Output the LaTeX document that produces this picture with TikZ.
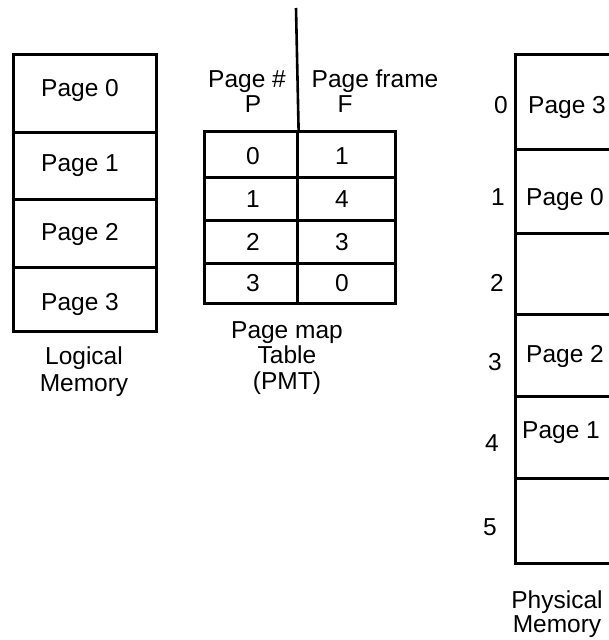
\documentclass[tikz,border=0pt]{standalone}
\usepackage{fontspec}
\setmainfont{Liberation Sans}
\begin{document}
\begin{tikzpicture}[x=1pt,y=-1pt,
  cell/.style={draw,line width=2.6pt,inner sep=0pt,anchor=north west},
  txt/.style={font=\fontsize{24.5}{28}\selectfont,anchor=base,inner sep=0pt},
  line width=2.6pt]
\useasboundingbox (0,0) rectangle (609,640);
\clip (0,0) rectangle (609,640);
% Logical memory
\node[cell,minimum width=143pt,minimum height=78pt] (l0) at (12,53) {};
\node[cell,minimum width=143pt,minimum height=67pt] (l1) at (12,131) {};
\node[cell,minimum width=143pt,minimum height=68pt] (l2) at (12,198) {};
\node[cell,minimum width=143pt,minimum height=64pt] (l3) at (12,266) {};
\node[txt] (tl0) at (80,96) {Page 0};
\node[txt] (tl1) at (80,171) {Page 1};
\node[txt] (tl2) at (80,240) {Page 2};
\node[txt] (tl3) at (80,310) {Page 3};
\node[txt] (lg1) at (84,364) {Logical};
\node[txt] (lg2) at (84,391) {Memory};
% PMT
\node[cell,minimum width=93pt,minimum height=46pt] (p0) at (203,130) {};
\node[cell,minimum width=98pt,minimum height=46pt] (f0) at (296,130) {};
\node[cell,minimum width=93pt,minimum height=43pt] (p1) at (203,176) {};
\node[cell,minimum width=98pt,minimum height=43pt] (f1) at (296,176) {};
\node[cell,minimum width=93pt,minimum height=43pt] (p2) at (203,219) {};
\node[cell,minimum width=98pt,minimum height=43pt] (f2) at (296,219) {};
\node[cell,minimum width=93pt,minimum height=40pt] (p3) at (203,262) {};
\node[cell,minimum width=98pt,minimum height=40pt] (f3) at (296,262) {};
\coordinate (vtop) at (296,8);
\draw (vtop) -- (p0.north east);
\node[txt] (hp) at (247,87) {Page \#};
\node[txt] (hpp) at (253,112) {P};
\node[txt] (hf) at (375,87) {Page frame};
\node[txt] (hff) at (345,112) {F};
\node[txt] (v00) at (253,164) {0};
\node[txt] (v01) at (342,164) {1};
\node[txt] (v10) at (253,207) {1};
\node[txt] (v11) at (342,207) {4};
\node[txt] (v20) at (253,250) {2};
\node[txt] (v21) at (342,250) {3};
\node[txt] (v30) at (253,291) {3};
\node[txt] (v31) at (342,291) {0};
\node[txt] (pm1) at (287,338) {Page map};
\node[txt] (pm2) at (287,363) {Table};
\node[txt] (pm3) at (287,389) {(PMT)};
% Physical memory
\node[cell,minimum width=110pt,minimum height=95pt] (m0) at (514,53) {};
\node[cell,minimum width=110pt,minimum height=84pt] (m1) at (514,148) {};
\node[cell,minimum width=110pt,minimum height=81pt] (m2) at (514,232) {};
\node[cell,minimum width=110pt,minimum height=82pt] (m3) at (514,313) {};
\node[cell,minimum width=110pt,minimum height=82pt] (m4) at (514,395) {};
\node[cell,minimum width=110pt,minimum height=85pt] (m5) at (514,477) {};
\node[txt] (tm0) at (567,113) {Page 3};
\node[txt] (tm1) at (565,205) {Page 0};
\node[txt] (tm3) at (565,362) {Page 2};
\node[txt] (tm4) at (561,438) {Page 1};
\node[txt] (n0) at (501,113) {0};
\node[txt] (n1) at (498,205) {1};
\node[txt] (n2) at (497,291) {2};
\node[txt] (n3) at (495,370) {3};
\node[txt] (n4) at (492,451) {4};
\node[txt] (n5) at (490,535) {5};
\node[txt] (ph1) at (557,608) {Physical};
\node[txt] (ph2) at (557,632) {Memory};
\end{tikzpicture}
\end{document}
